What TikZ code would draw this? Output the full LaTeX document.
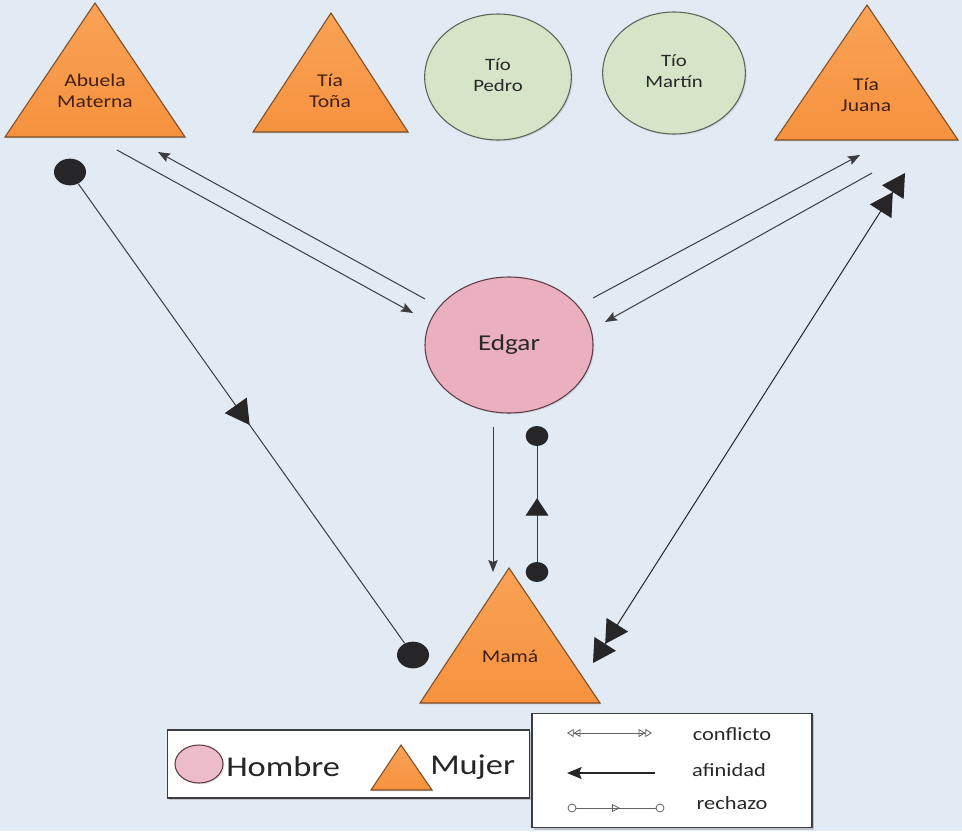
\documentclass[tikz,border=0pt]{standalone}
\usepackage{fontspec}
\setmainfont{Carlito}
\usetikzlibrary{arrows.meta,decorations.markings,shadows,shapes.geometric}

\definecolor{bgcol}{RGB}{226,234,243}
\definecolor{orangetop}{RGB}{249,162,86}
\definecolor{orangebot}{RGB}{246,146,62}
\definecolor{orangeedge}{RGB}{125,78,40}
\definecolor{greenfill}{RGB}{214,228,200}
\definecolor{greenedge}{RGB}{90,100,90}
\definecolor{pinkfill}{RGB}{234,176,192}
\definecolor{pinkedge}{RGB}{95,60,70}
\definecolor{inkline}{RGB}{60,60,64}
\definecolor{inkdot}{RGB}{38,38,40}
\definecolor{labelbrown}{RGB}{65,32,22}
\definecolor{labelgray}{RGB}{40,40,40}

% horizontally widened, centred multi-line label
\newcommand{\widelabel}[1]{\scalebox{1.2}[1]{\begin{tabular}{@{}c@{}}#1\end{tabular}}}

\begin{document}
\begin{tikzpicture}[x=0.75pt,y=-0.75pt,
  fem/.style={draw=orangeedge, line width=0.8pt, top color=orangetop, bottom color=orangebot,
    line join=miter, drop shadow={opacity=0.25, shadow xshift=1pt, shadow yshift=-1pt}},
  tio/.style={ellipse, draw=greenedge, line width=0.8pt, fill=greenfill, inner sep=0pt,
    text=labelgray, font=\fontsize{13}{15.5}\selectfont,
    drop shadow={opacity=0.2, shadow xshift=1pt, shadow yshift=-1pt}},
  hombre/.style={ellipse, draw=pinkedge, line width=0.8pt, fill=pinkfill, inner sep=0pt,
    drop shadow={opacity=0.2, shadow xshift=1pt, shadow yshift=-1pt}},
  femlabel/.style={inner sep=0pt, text=labelbrown, font=\fontsize{13.5}{15.5}\selectfont},
  afin/.style={draw=inkline, line width=0.75pt, -{Stealth[length=9pt,width=7pt,inset=1.5pt]}},
  dotbig/.style={ellipse, fill=inkdot, minimum width=24pt, minimum height=20pt, inner sep=0pt},
  dotsmall/.style={ellipse, fill=inkdot, minimum width=17pt, minimum height=15pt, inner sep=0pt},
  rechbig/.style={draw=inkline, line width=0.75pt, postaction={decorate},
    decoration={markings, mark=at position 0.525 with {\arrow[inkdot]{Triangle[length=18pt,width=20pt]}}}},
  rechsmall/.style={draw=inkline, line width=0.75pt, postaction={decorate},
    decoration={markings, mark=at position 0.55 with {\arrow[inkdot]{Triangle[length=13pt,width=17pt]}}}},
  confl/.style={draw=inkline, line width=0.75pt, color=inkdot,
    {Triangle[length=17pt,width=19pt] Triangle[length=17pt,width=19pt]}-{Triangle[length=17pt,width=19pt] Triangle[length=17pt,width=19pt]}},
  legbox/.style={draw=inkline, line width=0.8pt, fill=white, inner sep=0pt,
    drop shadow={opacity=0.35, shadow xshift=1.5pt, shadow yshift=-1.5pt}},
  legtext/.style={inner sep=0pt, text=labelgray, font=\fontsize{14}{16}\selectfont},
  bigtext/.style={inner sep=0pt, text=black!85, font=\fontsize{21.5}{24}\selectfont},
  legline/.style={draw=inkline!80, line width=0.6pt},
  opendot/.style={circle, draw=inkline!80, line width=0.6pt, fill=white, minimum size=6pt, inner sep=0pt}
]

% canvas
\useasboundingbox (0,0) rectangle (962,831);
\fill[bgcol] (0,0) rectangle (962,831);

% ---- women (triangles) ----
\draw[fem] (95,3) -- (185,137) -- (5,137) -- cycle;
\node[femlabel] (abuela) at (95,93) {\widelabel{Abuela\\Materna}};

\draw[fem] (331,13) -- (408,132) -- (253,132) -- cycle;
\node[femlabel] (tona) at (330,93) {\widelabel{Tía\\Toña}};

\draw[fem] (867,5) -- (958,140) -- (775,140) -- cycle;
\node[femlabel] (juana) at (866,97) {\widelabel{Tía\\Juana}};

\draw[fem] (509,568) -- (600,703) -- (420,703) -- cycle;
\node[femlabel, font=\fontsize{13.5}{15.5}\selectfont] (mama) at (510,658) {\widelabel{Mamá}};

% ---- uncles (ellipses) ----
\node[tio, minimum width=110pt, minimum height=94.5pt] (pedro) at (498,77) {\widelabel{Tío\\Pedro}};
\node[tio, minimum width=107pt, minimum height=91.5pt] (martin) at (674,73) {\widelabel{Tío\\Martín}};

% ---- Edgar ----
\node[hombre, minimum width=126pt, minimum height=102pt, text=labelgray,
  font=\fontsize{17}{19}\selectfont] (edgar) at (509,345) {\widelabel{Edgar}};

% ---- affinity arrows ----
\coordinate (abOut) at (117,150);
\coordinate (edInL) at (413,313);
\coordinate (edOutL) at (425,299);
\coordinate (abIn) at (158,152);
\draw[afin] (abOut) -- (edInL);
\draw[afin] (edOutL) -- (abIn);

\coordinate (edOutR) at (593,298);
\coordinate (juIn) at (860,155);
\coordinate (juOut) at (872,173);
\coordinate (edInR) at (605,322);
\draw[afin] (edOutR) -- (juIn);
\draw[afin] (juOut) -- (edInR);

\coordinate (edOutB) at (493,427);
\coordinate (maIn) at (493,572);
\draw[afin] (edOutB) -- (maIn);

% ---- rejection links ----
\node[dotbig] (rA1) at (70,172) {};
\node[dotbig] (rA2) at (413,655) {};
\draw[rechbig] (rA1) -- (rA2);

\node[dotsmall] (rM1) at (537,572) {};
\node[dotsmall] (rM2) at (537,436) {};
\draw[rechsmall] (rM1) -- (rM2);

% ---- conflict link ----
\coordinate (cMama) at (593,663);
\coordinate (cJuana) at (905,173);
\draw[confl] (cMama) -- (cJuana);

% ---- legend: symbols ----
\node[legbox, minimum width=272pt, minimum height=51pt] (legA) at (348.5,764) {};
\node[hombre, minimum width=36pt, minimum height=28.5pt, fill=pinkfill!85!white] (legH) at (199,764) {};
\node[bigtext, anchor=west] (txtH) at (226,767) {\scalebox{1.2}[1]{Hombre}};
\draw[fem] (401,745) -- (432,790) -- (371,790) -- cycle;
\node[bigtext, anchor=west] (txtM) at (430,767) {\scalebox{1.2}[1]{Mujer}};

% ---- legend: relations ----
\node[legbox, minimum width=210pt, minimum height=86pt] (legB) at (672,770.5) {};

\coordinate (lc1) at (567,733);
\coordinate (lc2) at (652,733);
\draw[legline, {Triangle[open,length=5pt,width=6pt] Triangle[open,length=5pt,width=6pt]}-{Triangle[open,length=5pt,width=6pt] Triangle[open,length=5pt,width=6pt]}] (lc1) -- (lc2);
\node[legtext] (txtC) at (732,734) {\scalebox{1.2}[1]{conflicto}};

\coordinate (la1) at (655,773);
\coordinate (la2) at (567,773);
\draw[draw=inkdot, line width=0.8pt, -{Stealth[length=11pt,width=9pt,inset=2pt]}] (la1) -- (la2);
\node[legtext] (txtA) at (729,770) {\scalebox{1.2}[1]{afinidad}};

\node[opendot] (lr1) at (572,808) {};
\node[opendot] (lr2) at (660,808) {};
\draw[legline, postaction={decorate},
  decoration={markings, mark=at position 0.55 with {\arrow{Triangle[open,length=6pt,width=6pt]}}}] (lr1) -- (lr2);
\node[legtext] (txtR) at (732,803) {\scalebox{1.2}[1]{rechazo}};

\end{tikzpicture}
\end{document}
